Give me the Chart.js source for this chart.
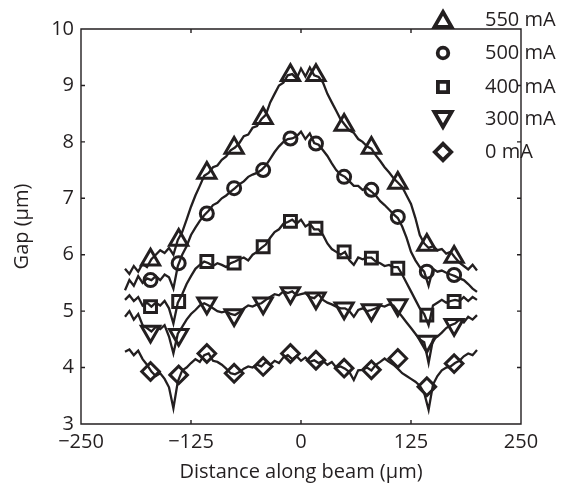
<!DOCTYPE html>
<html>
<head>
<meta charset="utf-8">
<script src="https://cdn.jsdelivr.net/npm/chart.js@4.4.1/dist/chart.umd.min.js"></script>
<style>
  html, body { margin: 0; padding: 0; background: #fff; }
</style>
</head>
<body>
<canvas id="gapChart" width="572" height="484"></canvas>
<script>
// distance along beam (um), one sample every 5 um
const distance = [
  -200, -195, -190, -185, -180, -175, -170, -165, -160,
  -155, -150, -145, -140, -135, -130, -125, -120, -115,
  -110, -105, -100, -95, -90, -85, -80, -75, -70,
  -65, -60, -55, -50, -45, -40, -35, -30, -25,
  -20, -15, -10, -5, 0, 5, 10, 15, 20,
  25, 30, 35, 40, 45, 50, 55, 60, 65,
  70, 75, 80, 85, 90, 95, 100, 105, 110,
  115, 120, 125, 130, 135, 140, 145, 150, 155,
  160, 165, 170, 175, 180, 185, 190, 195, 200
];

const gap550 = [
  5.75, 5.66, 5.80, 5.70, 5.84, 5.78, 5.92, 6.00, 6.08,
  6.03, 6.12, 6.00, 6.26, 6.40, 6.62, 6.85, 7.05, 7.22,
  7.40, 7.45, 7.55, 7.58, 7.68, 7.74, 7.85, 7.90, 7.98,
  8.10, 8.13, 8.25, 8.28, 8.40, 8.48, 8.70, 8.85, 9.00,
  9.05, 9.18, 9.20, 9.12, 9.30, 9.16, 9.32, 9.18, 9.15,
  9.05, 8.85, 8.70, 8.55, 8.40, 8.30, 8.20, 8.16, 8.05,
  8.00, 7.92, 7.88, 7.76, 7.66, 7.55, 7.46, 7.36, 7.28,
  7.20, 7.05, 6.90, 6.65, 6.35, 6.20, 6.12, 6.15, 6.08,
  6.10, 6.02, 6.05, 5.95, 5.86, 5.80, 5.74, 5.82, 5.72
];
const gap500 = [
  5.37, 5.55, 5.45, 5.62, 5.50, 5.58, 5.55, 5.62, 5.55,
  5.65, 5.60, 5.40, 5.80, 6.00, 6.15, 6.35, 6.48, 6.60,
  6.70, 6.78, 6.88, 6.92, 7.00, 7.05, 7.12, 7.18, 7.25,
  7.30, 7.38, 7.42, 7.45, 7.50, 7.58, 7.70, 7.82, 7.92,
  8.00, 8.05, 8.06, 8.10, 8.18, 8.05, 8.15, 7.98, 7.95,
  7.85, 7.75, 7.62, 7.50, 7.42, 7.38, 7.30, 7.22, 7.22,
  7.15, 7.18, 7.12, 7.05, 6.95, 6.88, 6.80, 6.72, 6.65,
  6.50, 6.30, 6.05, 5.90, 5.78, 5.70, 5.45, 5.75, 5.70,
  5.72, 5.68, 5.65, 5.62, 5.58, 5.55, 5.48, 5.40, 5.34
];
const gap400 = [
  5.20, 5.28, 5.18, 5.25, 5.10, 5.15, 5.08, 5.15, 5.10,
  5.18, 5.05, 4.78, 5.15, 5.30, 5.48, 5.62, 5.75, 5.82,
  5.88, 5.85, 5.80, 5.85, 5.82, 5.78, 5.85, 5.88, 5.92,
  5.95, 5.90, 6.00, 6.05, 6.12, 6.18, 6.30, 6.40, 6.45,
  6.55, 6.58, 6.62, 6.55, 6.62, 6.50, 6.55, 6.45, 6.45,
  6.35, 6.20, 6.10, 6.05, 6.00, 6.05, 5.90, 5.82, 5.95,
  5.92, 5.95, 5.95, 5.88, 5.85, 5.80, 5.82, 5.78, 5.78,
  5.65, 5.50, 5.35, 5.20, 5.05, 4.95, 4.75, 5.10, 5.15,
  5.20, 5.15, 5.18, 5.20, 5.18, 5.25, 5.18, 5.25, 5.20
];
const gap300 = [
  4.90, 5.00, 4.85, 4.95, 4.75, 4.70, 4.64, 4.72, 4.68,
  4.75, 4.55, 4.25, 4.60, 4.72, 4.85, 4.95, 5.02, 5.10,
  5.14, 5.10, 5.05, 5.00, 4.98, 5.00, 4.95, 4.93, 4.98,
  5.05, 5.10, 5.08, 5.12, 5.14, 5.20, 5.25, 5.30, 5.28,
  5.35, 5.32, 5.35, 5.28, 5.30, 5.32, 5.25, 5.23, 5.30,
  5.20, 5.15, 5.12, 5.08, 5.05, 5.05, 5.00, 4.90, 5.02,
  5.05, 5.00, 5.02, 5.05, 5.10, 5.08, 5.12, 5.10, 5.00,
  4.90, 4.80, 4.70, 4.60, 4.50, 4.45, 4.08, 4.50, 4.55,
  4.62, 4.70, 4.75, 4.78, 4.85, 4.80, 4.90, 4.85, 4.93
];
const gap0 = [
  4.28, 4.32, 4.22, 4.30, 4.15, 4.05, 3.93, 3.85, 3.90,
  3.80, 3.65, 3.28, 3.75, 3.95, 4.00, 4.08, 4.15, 4.10,
  4.22, 4.25, 4.12, 4.10, 4.05, 3.98, 3.90, 3.88, 3.92,
  3.98, 4.02, 4.00, 4.05, 4.02, 4.10, 4.05, 4.12, 4.08,
  4.18, 4.22, 4.15, 4.20, 4.12, 4.18, 4.10, 4.13, 4.08,
  4.12, 4.05, 4.10, 4.00, 4.02, 3.98, 3.92, 3.78, 3.95,
  3.96, 4.00, 3.95, 4.05, 4.10, 4.16, 4.10, 4.05, 3.98,
  3.90, 3.85, 3.80, 3.75, 3.68, 3.55, 3.25, 3.70, 3.85,
  3.95, 4.00, 4.02, 4.08, 4.12, 4.20, 4.25, 4.22, 4.31
];

// symbol positions along each trace
const markerX = [-171, -139, -107, -76, -43, -12, 17, 49, 80, 110, 143, 174];
const mark550 = [5.91, 6.26, 7.45, 7.89, 8.42, 9.18, 9.18, 8.30, 7.89, 7.27, 6.17, 5.96];
const mark500 = [5.55, 5.85, 6.73, 7.18, 7.50, 8.06, 7.97, 7.38, 7.15, 6.67, 5.70, 5.64];
const mark400 = [5.08, 5.17, 5.88, 5.85, 6.14, 6.59, 6.47, 6.05, 5.94, 5.76, 4.93, 5.17];
const mark300 = [4.64, 4.58, 5.14, 4.93, 5.14, 5.32, 5.23, 5.05, 5.02, 5.11, 4.46, 4.76];
const mark0   = [3.93, 3.87, 4.25, 3.90, 4.02, 4.25, 4.13, 3.99, 3.96, 4.16, 3.66, 4.07];

const currents = ['550 mA', '500 mA', '400 mA', '300 mA', '0 mA'];
const xTicks = [-250, -125, 0, 125, 250];
const yTicks = [3, 4, 5, 6, 7, 8, 9, 10];

const ink = '#231f20';
const font = 'Open Sans';

const traces = [gap550, gap500, gap400, gap300, gap0];
const marks = [mark550, mark500, mark400, mark300, mark0];
const symbols = [
  { style: 'triangle', r: 10.5, rot: 0 },
  { style: 'circle', r: 6.5, rot: 0 },
  { style: 'rect', r: 8.4, rot: 0 },
  { style: 'triangle', r: 10.5, rot: 180 },
  { style: 'rectRot', r: 8.8, rot: 0 }
];

const datasets = [];
traces.forEach((ys, k) => {
  datasets.push({
    data: distance.map((x, i) => ({ x, y: ys[i] })),
    showLine: true,
    borderColor: ink,
    borderWidth: 2.3,
    pointRadius: 0,
    tension: 0
  });
});
marks.forEach((ys, k) => {
  datasets.push({
    label: currents[k],
    data: markerX.map((x, i) => ({ x, y: ys[i] })),
    showLine: false,
    pointStyle: symbols[k].style,
    pointRadius: symbols[k].r,
    pointRotation: symbols[k].rot,
    pointBorderWidth: 3,
    pointBorderColor: ink,
    pointBackgroundColor: 'rgba(0,0,0,0)'
  });
});

// box, inward ticks and the legend
const frame = {
  id: 'frame',
  afterDraw(chart) {
    const { ctx, chartArea: a, scales: { x, y } } = chart;
    ctx.save();
    ctx.strokeStyle = ink;
    ctx.lineWidth = 1.4;
    ctx.beginPath();
    ctx.rect(a.left, a.top, a.right - a.left, a.bottom - a.top);
    xTicks.forEach(v => {
      const px = x.getPixelForValue(v);
      ctx.moveTo(px, a.bottom); ctx.lineTo(px, a.bottom - 4);
      ctx.moveTo(px, a.top); ctx.lineTo(px, a.top + 4);
    });
    yTicks.forEach(v => {
      const py = y.getPixelForValue(v);
      ctx.moveTo(a.left, py); ctx.lineTo(a.left + 4, py);
      ctx.moveTo(a.right, py); ctx.lineTo(a.right - 4, py);
    });
    ctx.stroke();

    // legend
    const rows = [20, 53, 87, 119, 152];
    const legendSym = [
      { pointStyle: 'triangle', radius: 10, rotation: 0 },
      { pointStyle: 'circle', radius: 5.3, rotation: 0 },
      { pointStyle: 'rect', radius: 7.2, rotation: 0 },
      { pointStyle: 'triangle', radius: 10, rotation: 180 },
      { pointStyle: 'rectRot', radius: 8.2, rotation: 0 }
    ];
    ctx.lineWidth = 3.8;
    rows.forEach((ry, k) => {
      ctx.fillStyle = 'rgba(0,0,0,0)';
      Chart.helpers.drawPoint(ctx, { ...legendSym[k], borderWidth: 3.8 }, 443, ry + (k === 0 ? 2 : k === 3 ? -2 : 0));
    });
    ctx.fillStyle = ink;
    ctx.font = '20px "' + font + '"';
    ctx.textBaseline = 'middle';
    ctx.textAlign = 'left';
    rows.forEach((ry, k) => ctx.fillText(currents[k], 485, ry));
    ctx.restore();
  }
};

new Chart(document.getElementById('gapChart'), {
  type: 'scatter',
  data: { datasets },
  options: {
    responsive: false,
    animation: false,
    layout: { padding: { top: 29, right: 51, left: 0, bottom: 0 } },
    plugins: { legend: { display: false }, tooltip: { enabled: false } },
    scales: {
      x: {
        type: 'linear',
        min: -250,
        max: 250,
        afterBuildTicks: s => { s.ticks = xTicks.map(v => ({ value: v })); },
        afterFit: s => { s.height = 60; },
        grid: { display: false, drawTicks: false },
        border: { display: false },
        ticks: {
          color: ink,
          padding: 6,
          font: { family: font, size: 20 },
          callback: v => String(v).replace('-', '\u2212')
        },
        title: {
          display: true,
          text: 'Distance along beam (\u03bcm)',
          color: ink,
          font: { family: font, size: 20 },
          padding: { top: 0, bottom: 0 }
        }
      },
      y: {
        min: 3,
        max: 10,
        afterBuildTicks: s => { s.ticks = yTicks.map(v => ({ value: v })); },
        afterFit: s => { s.width = 81; },
        grid: { display: false, drawTicks: false },
        border: { display: false },
        ticks: {
          color: ink,
          padding: 7,
          font: { family: font, size: 20 }
        },
        title: {
          display: true,
          text: 'Gap (\u03bcm)',
          color: ink,
          font: { family: font, size: 20 },
          padding: { top: 10, bottom: 0 }
        }
      }
    }
  },
  plugins: [frame]
});
</script>
</body>
</html>
